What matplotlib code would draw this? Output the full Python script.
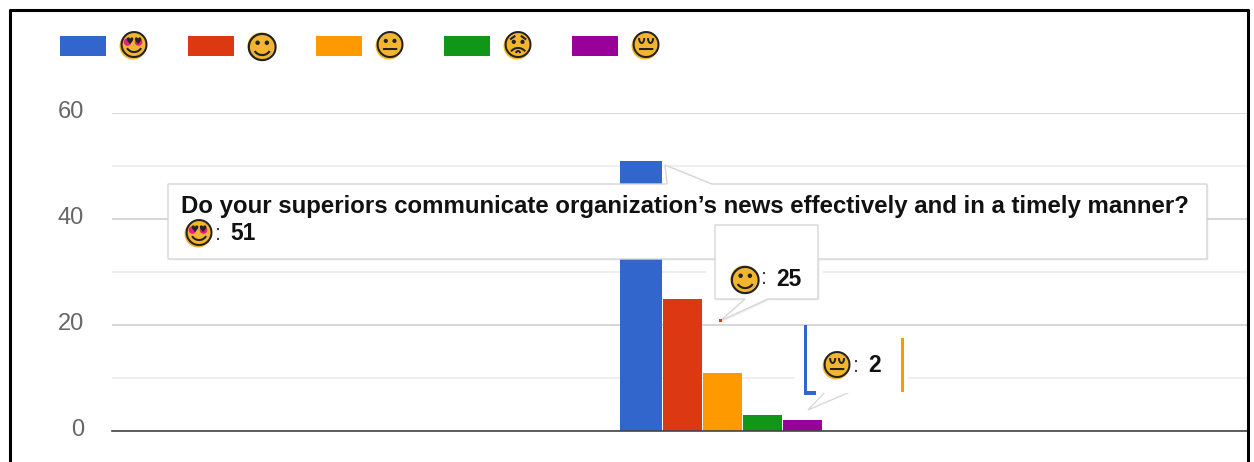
import matplotlib.pyplot as plt
from matplotlib.patches import Circle, Polygon, Rectangle
from matplotlib.transforms import ScaledTranslation

plt.rcParams['font.family'] = ['Liberation Sans', 'DejaVu Sans']

W, H = 1254, 462

# U+263A stands in for the slight smile, DejaVu has no U+1F642
faces = ['\U0001F60D', '\u263A', '\U0001F610', '\U0001F61F', '\U0001F614']
values = [51, 25, 11, 3, 2]
colors = ['#3366cc', '#dc3912', '#ff9900', '#109618', '#990099']
question = 'Do your superiors communicate organization\u2019s news effectively and in a timely manner?'
major_ticks = [0, 20, 40, 60]
minor_ticks = [10, 30, 50]

fig = plt.figure(figsize=(W / 100, H / 100), dpi=100)

# main axes, x runs in pixels so the cropped chart stays where it was
left, right, y0, y60 = 112, 1248, 431, 113
ax = fig.add_axes([left / W, 1 - y0 / H, (right - left) / W, (y0 - y60) / H])
ax.set_xlim(left, right)
ax.set_ylim(0, 60)
for s in ax.spines.values():
    s.set_visible(False)
ax.spines['bottom'].set_visible(True)
ax.spines['bottom'].set_color('#444444')
ax.spines['bottom'].set_linewidth(1.2)
ax.set_xticks([])
ax.set_yticks(major_ticks)
ax.set_yticks(minor_ticks, minor=True)
ax.tick_params(axis='y', which='both', length=0, pad=20, labelsize=17, labelcolor='#666666')
for t in ax.get_yticklabels():
    t.set_transform(t.get_transform() + ScaledTranslation(0, 3.5 / 100, fig.dpi_scale_trans))
ax.grid(axis='y', which='major', color='#cccccc', lw=1.1)
ax.grid(axis='y', which='minor', color='#ebebeb', lw=1.1)
ax.set_axisbelow(True)

bar_x = [641, 682.5, 722.5, 762.5, 802.5]
bar_w = [42, 39, 39, 39, 39]
ax.bar(bar_x, values, width=bar_w, color=colors, zorder=2)

# overlay in pixel coordinates for legend, tooltips and the frame
ov = fig.add_axes([0, 0, 1, 1])
ov.set_xlim(0, W)
ov.set_ylim(H, 0)
ov.axis('off')
ov.patch.set_alpha(0)


def face(x, y, ch, r=14):
    ov.add_patch(Circle((x, y), r - 0.5, fc='#f3b52f', ec='none', zorder=8))
    size, shift = r * 1.58, 1
    if ch == '\u263A':
        size, shift = r * 1.7, 3
    if ch == faces[0]:
        # pink heart eyes
        for dx in (-5.5, 5.5):
            ov.add_patch(Circle((x + dx, y - 4), 3.8, fc='#e0218a', ec='none', zorder=8.5))
    ov.text(x, y + shift, ch, family='DejaVu Sans', fontsize=size, ha='center', va='center',
            color='#222222', zorder=9)


def tooltip(points):
    ov.add_patch(Polygon([(x + 1.5, y + 1.5) for x, y in points], fc='#000000', alpha=0.06, ec='none', zorder=5))
    ov.add_patch(Polygon(points, fc='white', ec='#d6d6d6', lw=1, zorder=6))


def label(x, y, value):
    ov.text(x, y, ':', fontsize=16, color='#444444', va='center', zorder=7)
    ov.text(x + 15, y, str(value), fontsize=16.5, fontweight='bold', color='#111111', va='center', zorder=7)


# legend
for i in range(5):
    ov.add_patch(Rectangle((60 + 128 * i, 36), 46, 20, fc=colors[i], ec='none'))
    face(133 + 128 * i, 46, faces[i])

# tooltip of the blue bar
tooltip([(168, 184), (667, 184), (665, 165), (712, 184), (1207, 184), (1207, 259), (168, 259)])
ov.text(181, 207, question, fontsize=17.3, fontweight='bold', color='#111111', va='center', zorder=7)
face(198, 234, faces[0])
label(215, 234, values[0])

# tooltip of the red bar
ov.add_patch(Rectangle((706, 268), 117, 8, fc='white', ec='none', zorder=4))
tooltip([(715, 225), (818, 225), (818, 299), (768, 299), (720, 321), (745, 299), (715, 299)])
ov.add_patch(Rectangle((719, 319), 3, 3, fc=colors[1], ec='none', zorder=7))
face(744, 279, faces[1])
label(761, 279, values[1])

# tooltip of the purple bar, half drawn in the reference
ov.add_patch(Rectangle((795, 327), 113, 65, fc='white', ec='none', zorder=4))
ov.add_patch(Polygon([(825, 392), (850, 392), (808, 410)], fc='white', ec='#d8d8d8', lw=1, zorder=6))
ov.plot([825, 850], [392, 392], color='white', lw=1.5, zorder=6)
ov.add_patch(Rectangle((804, 325), 2.5, 70, fc=colors[0], ec='none', zorder=7))
ov.add_patch(Rectangle((804, 391), 12, 4, fc=colors[0], ec='none', zorder=7))
ov.add_patch(Rectangle((901, 338), 2.5, 54, fc=colors[2], ec='none', zorder=7))
face(836, 366, faces[4])
label(853, 366, values[4])

# black frame of the screenshot, open at the bottom
ov.plot([10, 10, 1248, 1248], [H, 10, 10, H], color='black', lw=2.2, zorder=11)

fig.savefig('out.png', dpi=100)
